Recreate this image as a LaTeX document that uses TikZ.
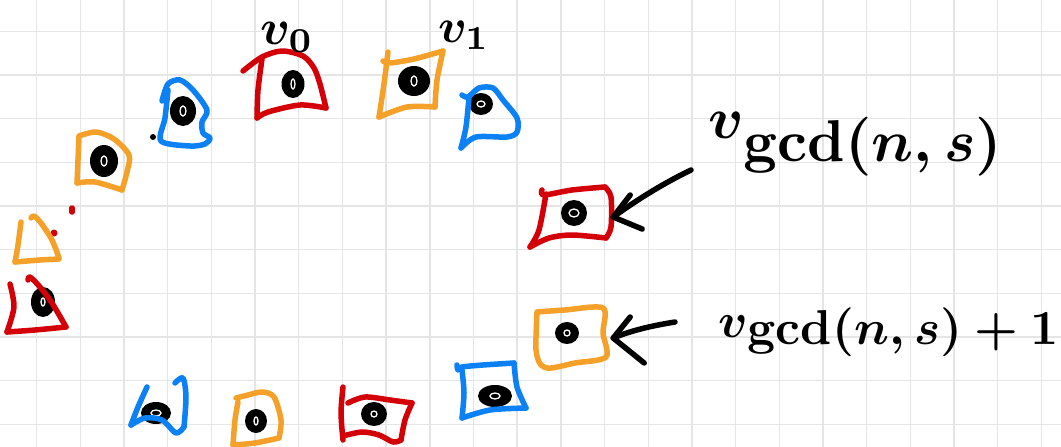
\documentclass[tikz,border=0pt]{standalone}
\usepackage{graphicx}
\usetikzlibrary{shapes.geometric,calc}
\definecolor{pred}{RGB}{212,0,8}
\definecolor{porange}{RGB}{245,160,40}
\definecolor{pblue}{RGB}{12,128,245}
\definecolor{gridc}{RGB}{229,229,229}
\tikzset{
  gridline/.style={draw=gridc, line width=1.4pt},
  pen/.style={line width=5.5pt, line cap=round, line join=round},
  redpen/.style={pen, draw=pred},
  orangepen/.style={pen, draw=porange},
  bluepen/.style={pen, draw=pblue},
  inkpen/.style={pen, draw=black},
  dot/.style={ellipse, fill=black, inner sep=0pt},
  hl/.style={draw=white, line width=1.3pt},
  boxarea/.style={inner sep=0pt, draw=none},
  lab/.style={inner sep=0pt, font=\boldmath}
}
\begin{document}
\begin{tikzpicture}[x=1pt,y=-1pt]
\useasboundingbox (0,0) rectangle (1061,447);
\fill[white] (0,0) rectangle (1061,447);
\foreach \k in {0,...,23} \draw[gridline] ({36.7+43.68*\k},0) -- ({36.7+43.68*\k},447);
\foreach \k in {0,...,9} \draw[gridline] (0,{31.3+43.67*\k}) -- (1061,{31.3+43.67*\k});

% dots
\node[dot, minimum width=28pt, minimum height=32pt] (dA) at (104,161) {};
\node[dot, minimum width=26pt, minimum height=30pt] (dB) at (183,111) {};
\node[dot, minimum width=23pt, minimum height=28pt] (dC) at (293,84) {};
\node[dot, minimum width=32pt, minimum height=30pt] (dD) at (414,81) {};
\node[dot, minimum width=24pt, minimum height=22pt] (dE) at (481,104) {};
\node[dot, minimum width=24pt, minimum height=30pt] (dG) at (43,302) {};
\node[dot, minimum width=30pt, minimum height=22pt] (dH) at (156,413) {};
\node[dot, minimum width=22pt, minimum height=24pt] (dI) at (256,421) {};
\node[dot, minimum width=26pt, minimum height=24pt] (dJ) at (374,414) {};
\node[dot, minimum width=34pt, minimum height=22pt] (dK) at (495,396) {};
\node[dot, minimum width=26pt, minimum height=26pt] (dL) at (574,213) {};
\node[dot, minimum width=24pt, minimum height=22pt] (dM) at (567,333) {};
\foreach \d/\a/\b in {dA/3/5, dB/3/5, dC/2/5, dD/3/5, dE/4/3, dG/2/4, dH/5/3, dI/2/4, dJ/3/3, dK/5/3, dL/5/4, dM/3/3}
  \draw[hl] (\d.center) ellipse (\a pt and \b pt);
\fill (153,137) circle (3pt);

% A orange
\draw[orangepen] plot[smooth, tension=0.5] coordinates {(79,137) (78,160) (77,183)};
\draw[orangepen] plot[smooth, tension=0.5] coordinates {(79,136) (96,132) (114,139) (129,155) (127,172) (122,190)};
\draw[orangepen] plot[smooth, tension=0.5] coordinates {(77,183) (95,182) (122,190)};
% B blue
\draw[bluepen] plot[smooth, tension=0.5] coordinates {(162,101) (168,84) (180,80) (193,90) (207,110) (202,122) (203,133) (210,138) (205,144) (190,146) (161,141) (165,118) (168,90)};
% C red (v0)
\draw[redpen] plot[smooth, tension=0.5] coordinates {(243,71) (262,57) (282,51) (303,56) (314,68) (320,84) (326,108)};
\draw[redpen] plot[smooth, tension=0.5] coordinates {(262,59) (258,90) (257,118)};
\draw[redpen] plot[smooth, tension=0.5] coordinates {(257,118) (268,112) (300,105) (326,108)};
% D orange (v1)
\draw[orangepen] plot[smooth, tension=0.5] coordinates {(383,61) (390,63) (414,59) (443,51)};
\draw[orangepen] plot[smooth, tension=0.5] coordinates {(443,51) (437,80) (435,107)};
\draw[orangepen] plot[smooth, tension=0.5] coordinates {(435,107) (407,107) (379,117)};
\draw[orangepen] plot[smooth, tension=0.5] coordinates {(379,117) (384,84) (388,52)};
% E blue
\draw[bluepen] plot[smooth, tension=0.5] coordinates {(462,95) (468,97) (479,88) (493,88) (503,100) (517,118) (517,132) (507,137) (476,137) (461,148)};
\draw[bluepen] plot[smooth, tension=0.5] coordinates {(469,97) (466,127) (461,148)};
% red specks
\draw[redpen] (72,208) -- (72,212);
\fill[pred] (54,233) circle (3.5pt);
% F orange triangle
\draw[orangepen] plot[smooth, tension=0.5] coordinates {(21,222) (18,245) (15,262)};
\draw[orangepen] plot[smooth, tension=0.5] coordinates {(15,262) (40,260) (59,259)};
\draw[orangepen] plot[smooth, tension=0.5] coordinates {(31,218) (34,216) (41,223) (52,240) (59,258)};
% G red triangle
\draw[redpen] plot[smooth, tension=0.5] coordinates {(10,284) (14,307) (7,332)};
\draw[redpen] plot[smooth, tension=0.5] coordinates {(7,332) (35,330) (66,327)};
\draw[redpen] plot[smooth, tension=0.5] coordinates {(28,280) (30,277) (40,287) (52,303) (66,327)};
% H blue
\draw[bluepen] plot[smooth, tension=0.5] coordinates {(147,387) (138,407) (131,425)};
\draw[bluepen] plot[smooth, tension=0.5] coordinates {(131,425) (145,418) (162,420) (176,433) (184,427)};
\draw[bluepen] plot[smooth, tension=0.5] coordinates {(184,427) (186,397) (183,378) (175,383)};
% I orange
\draw[orangepen] plot[smooth, tension=0.5] coordinates {(238,402) (235,420) (233,445)};
\draw[orangepen] plot[smooth, tension=0.5] coordinates {(236,398) (248,395) (262,392) (274,397) (281,420) (279,438)};
\draw[orangepen] plot[smooth, tension=0.5] coordinates {(279,438) (255,443) (233,445)};
% J red
\draw[redpen] plot[smooth, tension=0.5] coordinates {(343,387) (341,413) (343,440)};
\draw[redpen] plot[smooth, tension=0.5] coordinates {(348,403) (365,397) (390,400) (412,403)};
\draw[redpen] plot[smooth, tension=0.5] coordinates {(412,403) (405,420) (401,440)};
\draw[redpen] plot[smooth, tension=0.5] coordinates {(343,436) (362,432) (379,435) (393,442) (401,440)};
% K blue
\draw[bluepen] plot[smooth, tension=0.5] coordinates {(457,365) (458,370) (462,367) (483,365) (514,363)};
\draw[bluepen] plot[smooth, tension=0.5] coordinates {(514,363) (517,387) (526,408)};
\draw[bluepen] plot[smooth, tension=0.5] coordinates {(526,408) (490,410) (462,418)};
\draw[bluepen] plot[smooth, tension=0.5] coordinates {(462,418) (464,393) (462,370)};
% L red (gcd)
\draw[redpen] plot[smooth, tension=0.5] coordinates {(542,190) (544,195) (572,190) (605,187)};
\draw[redpen] plot[smooth, tension=0.5] coordinates {(605,187) (611,197) (611,227) (606,238)};
\draw[redpen] plot[smooth, tension=0.5] coordinates {(606,238) (572,235) (549,238) (530,247)};
\draw[redpen] plot[smooth, tension=0.5] coordinates {(530,247) (539,230) (546,194)};
% M orange
\draw[orangepen] plot[smooth, tension=0.5] coordinates {(537,312) (565,310) (603,308) (603,333) (606,357) (575,363) (551,368) (541,365) (536,350) (537,312)};

% areas of the two pointed boxes
\node[boxarea, minimum width=84pt, minimum height=50pt] (boxL) at (571,217) {};
\node[boxarea, minimum width=76pt, minimum height=50pt] (boxM) at (575,338) {};

% labels
\node[lab, anchor=base west] (lab0) at (260,45) {\scalebox{5}{$v_0$}};
\node[lab, anchor=base west] (lab1) at (438,42) {\scalebox{4.8}{$v_1$}};
\node[lab, anchor=base west] (labg) at (708,138) {\scalebox{5.9}{$v$\raisebox{-0.4em}{$\gcd(n,s)$}}};
\node[lab, anchor=base west] (labg1) at (718,337) {\scalebox{4.9}{$v$\raisebox{-0.15em}{$\gcd(n,s)+1$}}};

% arrows
\coordinate (a1) at (691,170);
\coordinate (a2) at (675,322);
\draw[inkpen] (a1) .. controls (660,185) and (634,202) .. (boxL.east);
\draw[inkpen] ($(boxL.east)+(17,-22)$) -- (boxL.east) -- ($(boxL.east)+(29,12)$);
\draw[inkpen] (a2) .. controls (650,326) and (630,331) .. (boxM.east);
\draw[inkpen] ($(boxM.east)+(17,-21)$) -- (boxM.east) -- ($(boxM.east)+(31,25)$);
\end{tikzpicture}
\end{document}
